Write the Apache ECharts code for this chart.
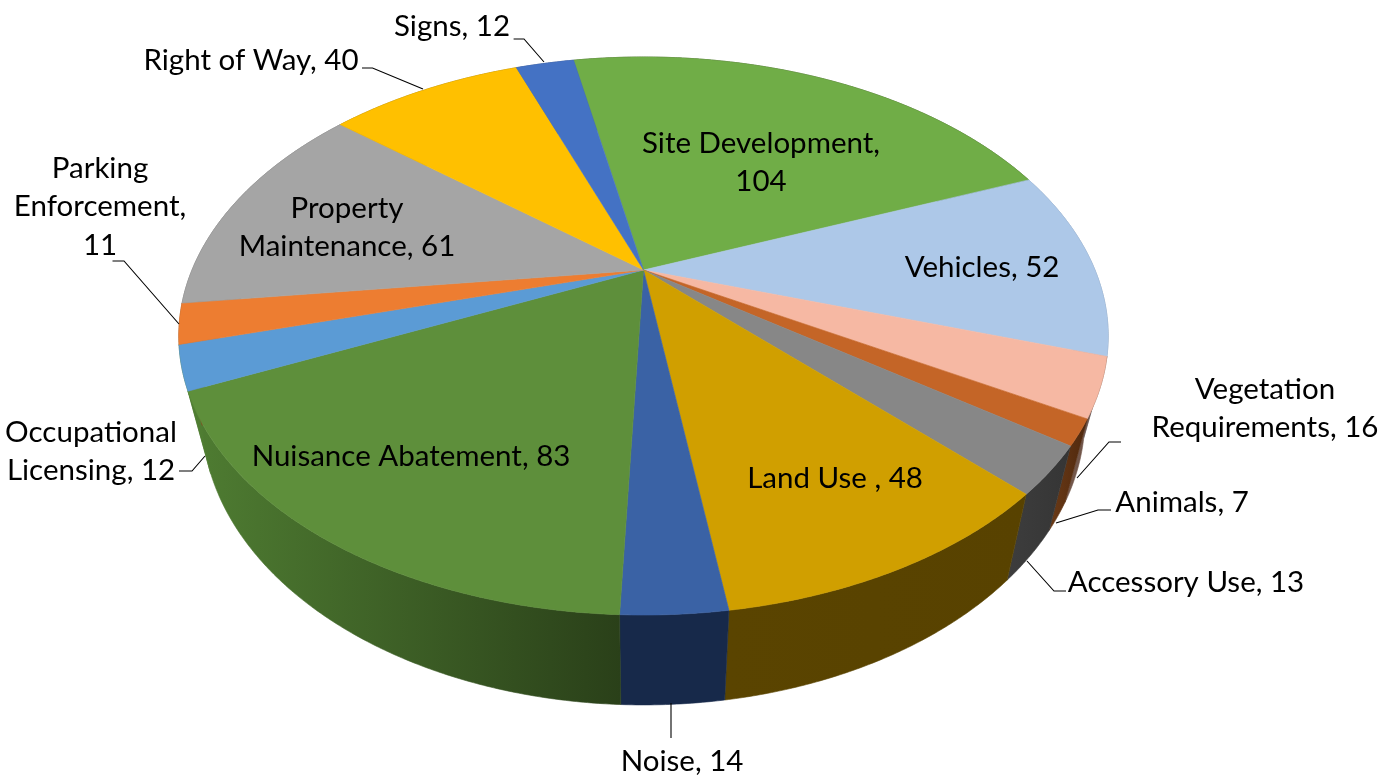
<!DOCTYPE html>
<html><head><meta charset="utf-8">
<style>html,body{margin:0;padding:0;background:#fff}#c{width:1393px;height:776px}</style>
<script src="https://cdn.jsdelivr.net/npm/echarts@6/dist/echarts.min.js"></script>
</head><body><div id="c"></div>
<script>
// Data, clockwise from the top of the pie
const categories = ['Site Development','Vehicles','Vegetation Requirements','Animals','Accessory Use','Land Use ','Noise','Nuisance Abatement','Occupational Licensing','Parking Enforcement','Property Maintenance','Right of Way','Signs'];
const values = [104,52,16,7,13,48,14,83,12,11,61,40,12];
const labelLines = [['Site Development,','104'],['Vehicles, 52'],['Vegetation','Requirements, 16'],['Animals, 7'],['Accessory Use, 13'],['Land Use , 48'],['Noise, 14'],['Nuisance Abatement, 83'],['Occupational','Licensing, 12'],['Parking','Enforcement,','11'],['Property','Maintenance, 61'],['Right of Way, 40'],['Signs, 12']];

// Styles
const topColors = ['#70ad47','#adc8e8','#f6b8a3','#c46527','#878787','#d09f00','#3a62a5','#5e8f3b','#5b9bd5','#ed7d31','#a5a5a5','#ffc000','#4472c4'];
const sideColors = [['#384f24','#384f24'],['#8a9fb9','#7b8ea6'],['#75594c','#6b5045'],['#6b3a16','#4e280e'],['#3d3d3d','#353535'],['#5a4400','#584200'],['#17294a','#17294a'],['#4f7d32','#2a4019'],['#4f7d32','#4f7d32'],['#8a4a1d','#8a4a1d'],['#666666','#666666'],['#8e6b00','#8e6b00'],['#2a4679','#2a4679']];

// Layout
const geo = {cx:643.5, cy:270, A:451.5, B:263.4, k:-0.2366, startDeg:-101, dy:78.5, sx:0.95, sy:1.033};
const labelCenters = [[761,143],[982,267],[1265,389],[1182,502],[1186,582],[835,478],[682,761],[411,456],[91,432],[100,168],[347,208],[251,60],[452,26]];
const leaderLines = [null,null,
 [[1121,442],[1109,442],[1077,478]],
 [[1111,510],[1098,510],[1056,523]],
 [[1066,591],[1054,591],[1027,561]],
 null,
 [[671,703],[671,738]],
 null,
 [[179,471],[192,471],[205,456]],
 [[112.5,261],[124,261],[179,324]],
 null,
 [[362,68],[372.5,68],[423,89]],
 [[513.6,39],[524,39],[544,62]]];
const fontSize = 29.5, lineH = 38.7, fontFamily = 'Lato, Carlito, sans-serif';

const total = values.reduce((a,b)=>a+b,0);
const cum = [0]; values.forEach((v,i)=>cum.push(cum[i]+v));
const ang = f => (geo.startDeg + 360*f)*Math.PI/180;
function topPt(t){const d=1+geo.k*Math.sin(t);return [geo.cx+geo.A*Math.cos(t)/d, geo.cy+geo.B*Math.sin(t)/d];}
function bottomPt(t){const d=1+geo.k*Math.sin(t);return [geo.cx+geo.sx*geo.A*Math.cos(t)/d, geo.cy+geo.dy+geo.sy*geo.B*Math.sin(t)/d];}
function arc(fn,i){const n=Math.max(8,Math.ceil(values[i]*2)),a=[];
  for(let j=0;j<=n;j++){a.push(fn(ang((cum[i]+values[i]*j/n)/total)));}return a;}
const seriesData = categories.map((c,i)=>({name:c,value:[values[i]]}));

const chart = echarts.init(document.getElementById('c'),null,{renderer:'canvas'});
chart.setOption({
  backgroundColor:'#fff', animation:false,
  series:[
   {type:'custom',coordinateSystem:'none',silent:true,z:1,data:seriesData,
    renderItem(p){const i=p.dataIndex,u=arc(topPt,i),l=arc(bottomPt,i);
      const pts=u.concat(l.slice().reverse());
      const xs=pts.map(q=>q[0]),x0=Math.min(...xs),x1=Math.max(...xs);
      const [c0,c1]=sideColors[i];
      const fill={type:'linear',x:x0,y:0,x2:x1,y2:0,global:true,colorStops:[{offset:0,color:c0},{offset:1,color:c1}]};
      return {type:'polygon',shape:{points:pts},style:{fill,stroke:fill,lineWidth:0.6}};}},
   {type:'custom',coordinateSystem:'none',silent:true,z:2,data:seriesData,
    renderItem(p){const i=p.dataIndex,pts=[[geo.cx,geo.cy]].concat(arc(topPt,i));
      return {type:'polygon',shape:{points:pts},style:{fill:topColors[i],stroke:topColors[i],lineWidth:0.6}};}},
   {type:'custom',coordinateSystem:'none',silent:true,z:3,data:seriesData,
    renderItem(p){const i=p.dataIndex,ch=[];
      if(leaderLines[i])ch.push({type:'polyline',shape:{points:leaderLines[i]},style:{fill:null,stroke:'#000',lineWidth:1.1}});
      labelLines[i].forEach((t,j)=>ch.push({type:'text',style:{text:t,x:labelCenters[i][0],y:labelCenters[i][1]+j*lineH,align:'center',verticalAlign:'middle',fontSize,fontFamily,fill:'#000'}}));
      return {type:'group',children:ch};}}
  ]
});
</script></body></html>
